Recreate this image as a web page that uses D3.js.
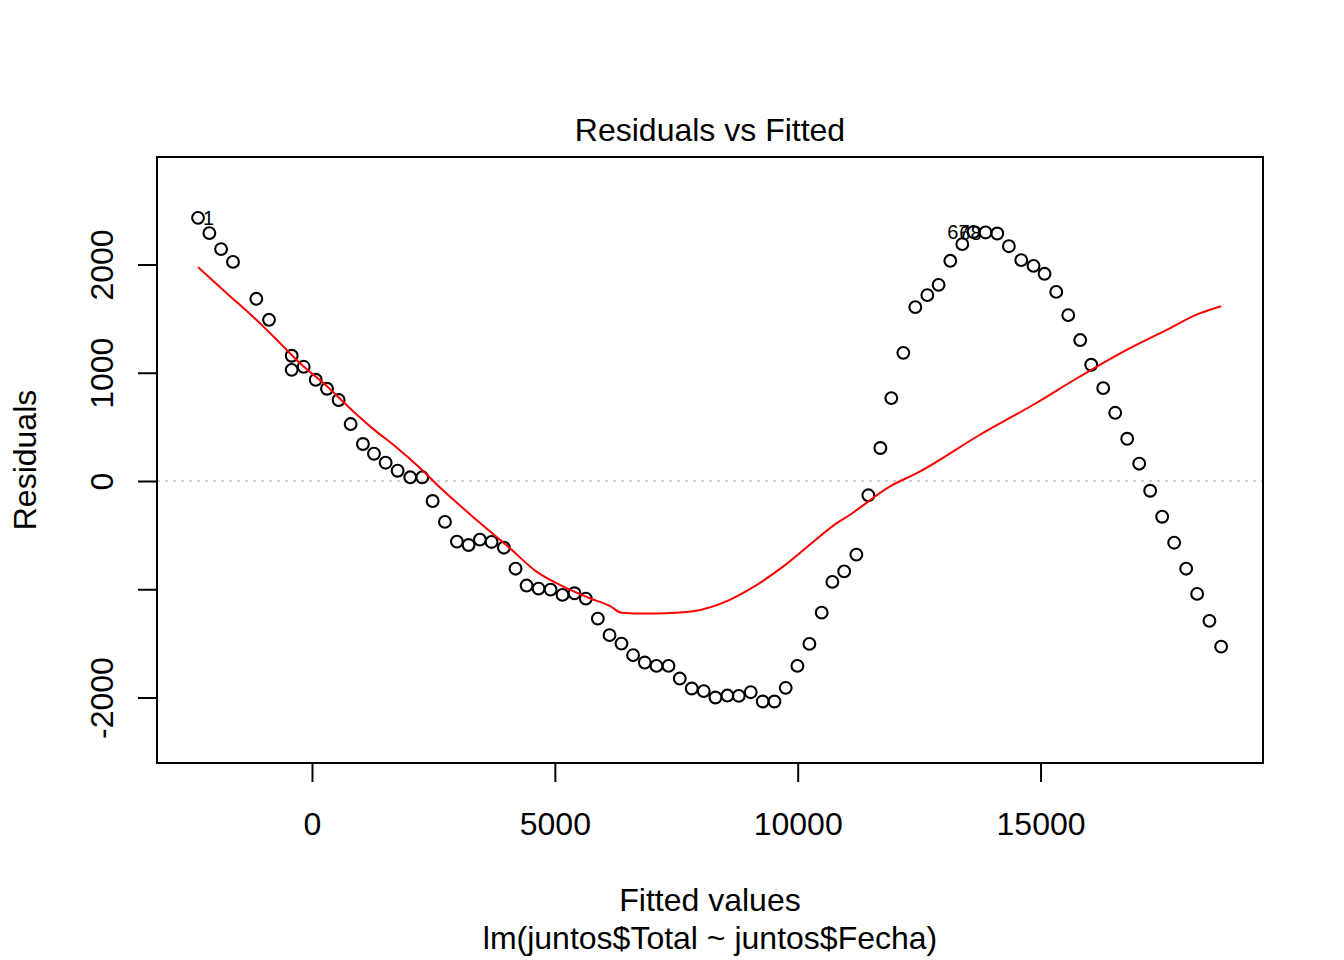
<!DOCTYPE html>
<html>
<head>
<meta charset="utf-8">
<script src="https://cdn.jsdelivr.net/npm/d3@7"></script>
<style>
  html, body { margin: 0; padding: 0; background: #ffffff; }
  svg { display: block; }
  text { font-family: "Liberation Sans", Arial, sans-serif; fill: #000; }
</style>
</head>
<body>
<svg id="chart" width="1344" height="960"></svg>
<script>
// ---- data ----
const fittedValues = [
  -2346, -2113, -1872, -1626, -1146, -885, -418, -418, -171, 76,
  309, 549, 796, 1049, 1276, 1516, 1763, 2023, 2270, 2484,
  2737, 2984, 3224, 3457, 3698, 3951, 4191, 4418, 4665, 4912,
  5158, 5405, 5638, 5885, 6126, 6372, 6611, 6852, 7093, 7340,
  7572, 7819, 8066, 8307, 8553, 8786, 9033, 9280, 9521, 9753,
  9994, 10241, 10494, 10714, 10957, 11208, 11455, 11702, 11928, 12175,
  12422, 12669, 12901, 13142, 13389, 13621, 13868, 14109, 14348, 14603,
  14856, 15082, 15323, 15570, 15817, 16043, 16290, 16537, 16784, 17031,
  17257, 17504, 17751, 17998, 18224, 18477, 18718
];
const residualValues = [
  2431, 2290, 2142, 2024, 1683, 1489, 1157, 1027, 1055, 935,
  852, 748, 526, 342, 252, 169, 95, 34, 34, -185,
  -378, -560, -591, -542, -563, -616, -810, -966, -994, -1003,
  -1052, -1037, -1087, -1271, -1424, -1502, -1609, -1677, -1708, -1708,
  -1825, -1917, -1941, -2000, -1982, -1985, -1951, -2037, -2037, -1911,
  -1708, -1505, -1216, -932, -835, -680, -132, 305, 766, 1184,
  1606, 1717, 1812, 2034, 2188, 2300, 2296, 2286, 2169, 2040,
  1987, 1914, 1747, 1532, 1302, 1074, 858, 630, 390, 160,
  -90, -330, -570, -810, -1043, -1292, -1530
];
const smoothX = [-2346, -1749, -994, -617, -241, 241, 858, 1270, 1681, 2229,
  2675, 3389, 4074, 4623, 5103, 5720, 6132, 6372, 6886, 7298,
  7846, 8601, 9081, 9698, 10384, 10727, 11070, 11893, 12510, 13745,
  14842, 15802, 16763, 17586, 18272, 18718];
const smoothY = [1975, 1733, 1424, 1255, 1086, 902, 640, 477, 332, 117,
  -77, -360, -621, -837, -960, -1083, -1154, -1216, -1225, -1221,
  -1203, -1098, -981, -791, -538, -414, -314, -52, 86, 425,
  702, 963, 1209, 1394, 1548, 1615];
const idLabels = ["1", "67", "68"];
const xTicks = [0, 5000, 10000, 15000];
const xTickLabels = ["0", "5000", "10000", "15000"];
const yTicks = [-2000, -1000, 0, 1000, 2000];
const yTickLabels = ["-2000", "", "0", "1000", "2000"];
const titleText = "Residuals vs Fitted";
const xLabel = "Fitted values";
const subLabel = "lm(juntos$Total ~ juntos$Fecha)";
const yLabel = "Residuals";

// ---- layout ----
const plot = { left: 157, right: 1263, top: 157, bottom: 763 };
const FS = 32;
const svg = d3.select("#chart");
svg.append("rect").attr("width", 1344).attr("height", 960).attr("fill", "#fff");

const x = d3.scaleLinear().domain([-3191, 19580]).range([plot.left, plot.right]);
const y = d3.scaleLinear().domain([-2605, 2993]).range([plot.bottom, plot.top]);

const points = fittedValues.map((f, i) => ({ f, r: residualValues[i], i }));

// zero reference line
svg.append("line")
  .attr("x1", plot.left).attr("x2", plot.right)
  .attr("y1", y(0)).attr("y2", y(0))
  .attr("stroke", "#bebebe").attr("stroke-width", 1.6)
  .attr("stroke-dasharray", "3,5");

// points
svg.append("g").selectAll("circle").data(points).join("circle")
  .attr("cx", d => x(d.f)).attr("cy", d => y(d.r))
  .attr("r", 5.9).attr("fill", "none")
  .attr("stroke", "#000").attr("stroke-width", 2.1);

// smooth line
const smooth = smoothX.map((v, i) => [v, smoothY[i]]);
svg.append("path").datum(smooth)
  .attr("d", d3.line().curve(d3.curveMonotoneX).x(d => x(d[0])).y(d => y(d[1])))
  .attr("fill", "none").attr("stroke", "#ff0000").attr("stroke-width", 2);

// id labels: the 3 largest |residuals|
const idPts = points.slice().sort((a, b) => Math.abs(b.r) - Math.abs(a.r)).slice(0, 3)
  .sort((a, b) => a.f - b.f);
const midX = (d3.min(fittedValues) + d3.max(fittedValues)) / 2;
svg.append("g").selectAll("text").data(idPts).join("text")
  .attr("x", d => d.f < midX ? x(d.f) + 5 : x(d.f) - 4)
  .attr("y", d => y(d.r))
  .attr("dy", "0.36em")
  .attr("text-anchor", d => d.f < midX ? "start" : "end")
  .attr("font-size", 20)
  .text((d, i) => idLabels[i]);

// box
svg.append("rect")
  .attr("x", plot.left).attr("y", plot.top)
  .attr("width", plot.right - plot.left).attr("height", plot.bottom - plot.top)
  .attr("fill", "none").attr("stroke", "#000").attr("stroke-width", 2);

// x axis
const gx = svg.append("g").attr("transform", `translate(0,${plot.bottom})`)
  .call(d3.axisBottom(x).tickValues(xTicks).tickSize(19).tickSizeOuter(0)
    .tickFormat((d, i) => xTickLabels[i]));
gx.select(".domain").remove();
gx.selectAll(".tick line").attr("stroke", "#000").attr("stroke-width", 2);
gx.selectAll(".tick text").attr("y", 72).attr("dy", 0)
  .attr("font-size", FS).attr("font-family", '"Liberation Sans", Arial, sans-serif')
  .attr("fill", "#000");

// y axis
const gy = svg.append("g").attr("transform", `translate(${plot.left},0)`)
  .call(d3.axisLeft(y).tickValues(yTicks).tickSize(19).tickSizeOuter(0)
    .tickFormat((d, i) => yTickLabels[i]));
gy.select(".domain").remove();
gy.selectAll(".tick line").attr("stroke", "#000").attr("stroke-width", 2);
gy.selectAll(".tick text")
  .attr("transform", "rotate(-90)")
  .attr("x", 0).attr("y", -44).attr("dy", 0)
  .attr("text-anchor", "middle")
  .attr("font-size", FS).attr("font-family", '"Liberation Sans", Arial, sans-serif')
  .attr("fill", "#000");

// titles
const cx = (plot.left + plot.right) / 2;
svg.append("text").attr("x", cx).attr("y", 141).attr("text-anchor", "middle")
  .attr("font-size", FS).text(titleText);
svg.append("text").attr("x", cx).attr("y", 911).attr("text-anchor", "middle")
  .attr("font-size", FS).text(xLabel);
svg.append("text").attr("x", cx).attr("y", 949).attr("text-anchor", "middle")
  .attr("font-size", FS).text(subLabel);
svg.append("text")
  .attr("transform", `translate(36,${(plot.top + plot.bottom) / 2}) rotate(-90)`)
  .attr("text-anchor", "middle").attr("font-size", FS).text(yLabel);
</script>
</body>
</html>
